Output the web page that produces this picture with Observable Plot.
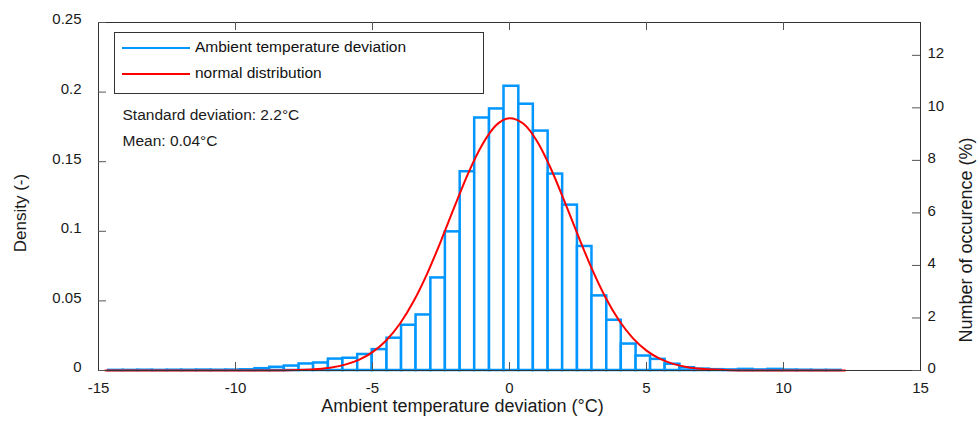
<!DOCTYPE html>
<html>
<head>
<meta charset="utf-8">
<script src="https://cdn.jsdelivr.net/npm/d3@7"></script>
<script src="https://cdn.jsdelivr.net/npm/@observablehq/plot@0.6"></script>
<style>
  html, body { margin: 0; padding: 0; background: #fff; }
  #wrap { position: relative; width: 979px; height: 430px; overflow: hidden; font-family: "Liberation Sans", Arial, sans-serif; }
  #legend { position: absolute; left: 114px; top: 32px; width: 370px; height: 62px; border: 1px solid #333; background: #fff; box-sizing: border-box; }
  .sw { position: absolute; left: 7px; width: 68px; height: 0; border-top: 2px solid; }
  .lt { position: absolute; left: 80px; font-size: 15.5px; color: #111; line-height: 18px; }
  .vlab { position: absolute; white-space: nowrap; color: #1a1a1a; line-height: 1; transform: translate(-50%, -50%) rotate(-90deg); }
</style>
</head>
<body>
<div id="wrap">
  <div id="chart"></div>
  <div id="legend">
    <div class="sw" style="top:14px;border-color:#0096ff"></div>
    <div class="lt" style="top:5px">Ambient temperature deviation</div>
    <div class="sw" style="top:40px;border-color:#ff0000"></div>
    <div class="lt" style="top:31px">normal distribution</div>
  </div>
  <div id="ylab" class="vlab" style="left:20px;top:213px;font-size:17px"></div>
  <div id="y2lab" class="vlab" style="left:966px;top:240px;font-size:18px"></div>
</div>
<script>
// Histogram bin edges (°C) and densities
const binEdges = [-14.63, -14.10, -13.56, -13.03, -12.49, -11.96, -11.42, -10.89, -10.35, -9.82,
  -9.29, -8.75, -8.22, -7.68, -7.15, -6.61, -6.08, -5.54, -5.01, -4.47,
  -3.94, -3.41, -2.87, -2.34, -1.80, -1.27, -0.73, -0.20, 0.34, 0.87,
  1.41, 1.94, 2.48, 3.01, 3.55, 4.08, 4.62, 5.15, 5.68, 6.22,
  6.75, 7.29, 7.82, 8.36, 8.89, 9.43, 9.96, 10.50, 11.03, 11.57, 12.10];
const densities = [0.0001, 0.0001, 0.0002, 0.0001, 0.0002, 0.0002, 0.0003, 0.0002, 0.0003, 0.0005,
  0.0013, 0.0023, 0.0032, 0.0047, 0.0054, 0.0082, 0.0088, 0.0115, 0.0150, 0.0232,
  0.0325, 0.0399, 0.0665, 0.0996, 0.1428, 0.1814, 0.1879, 0.2042, 0.1913, 0.1720,
  0.1411, 0.1188, 0.0891, 0.0536, 0.0361, 0.0190, 0.0104, 0.0080, 0.0045, 0.0020,
  0.0010, 0.0006, 0.0004, 0.0008, 0.0004, 0.0008, 0.0003, 0.0002, 0.0001, 0.0001];

// Normal distribution curve
const curveX = [-14.75, -12, -10, -9, -8, -7, -6.5, -6, -5.5, -5, -4.5, -4, -3.5, -3, -2.5, -2, -1.5, -1, -0.5, 0,
  0.5, 1, 1.5, 2, 2.5, 3, 3.5, 4, 4.5, 5, 5.5, 6, 6.5, 7, 8, 9, 10, 12.25];
const curveY = [0, 0, 0.00001, 0.00004, 0.00023, 0.00108, 0.00218, 0.0042, 0.0076, 0.0132, 0.0216, 0.0336, 0.0497, 0.0698, 0.0932, 0.118, 0.142, 0.162, 0.176, 0.1813,
  0.1774, 0.1649, 0.1455, 0.1219, 0.0971, 0.0733, 0.0526, 0.0359, 0.0233, 0.0143, 0.0083, 0.0046, 0.0024, 0.0012, 0.00026, 0.00004, 0, 0];

// Axis ticks
const xTicks = [-15, -10, -5, 0, 5, 10, 15];
const xInnerTicks = [-10, -5, 0, 5, 10];
const leftTicks = [0, 0.05, 0.1, 0.15, 0.2, 0.25];
const rightTicks = [0, 2, 4, 6, 8, 10, 12];
const rightMax = 13.25; // percent at top of right axis
const densityMax = 0.25;

const annotations = ["Standard deviation: 2.2°C", "Mean: 0.04°C"];
const xLabel = "Ambient temperature deviation (°C)";
const yLabel = "Density (-)";
const y2Label = "Number of occurence (%)";

const bars = densities.map((d, i) => ({x1: binEdges[i], x2: binEdges[i + 1], y: d}));
const curve = curveX.map((x, i) => ({x, y: curveY[i]}));
const toDensity = densityMax / rightMax;

const W = 979, H = 430, mL = 98, mR = 59, mT = 22, mB = 60;
const fw = W - mL - mR, fh = H - mT - mB;
const axisColor = "#333";
const tickColor = "#555";
const ink = "#1a1a1a";
const font = "Liberation Sans, Arial, sans-serif";

const chart = Plot.plot({
  width: W, height: H,
  marginLeft: mL, marginRight: mR, marginTop: mT, marginBottom: mB,
  style: {fontFamily: font, background: "transparent", color: ink},
  x: {domain: [-15, 15]},
  y: {domain: [0, densityMax]},
  marks: [
    Plot.rectY(bars, {x1: "x1", x2: "x2", y: "y", fill: "white", stroke: "#0096ff", strokeWidth: 2.5}),
    Plot.line(curve, {x: "x", y: "y", stroke: "#ff0000", strokeWidth: 2, curve: "monotone-x"}),
    Plot.frame({stroke: axisColor, strokeWidth: 1}),
    Plot.tickY(leftTicks, {y: d => d, stroke: tickColor, insetRight: fw - 8}),
    Plot.tickY(rightTicks.map(p => p * toDensity), {y: d => d, stroke: tickColor, insetLeft: fw - 8}),
    Plot.tickX(xInnerTicks, {x: d => d, stroke: tickColor, insetTop: fh - 8}),
    Plot.tickX(xInnerTicks, {x: d => d, stroke: tickColor, insetBottom: fh - 8}),
    Plot.axisX(xTicks, {tickSize: 0, tickPadding: 12, fontSize: 15, label: null, tickFormat: d => String(d)}),
    Plot.axisY(leftTicks, {tickSize: 0, tickPadding: 17, fontSize: 15, dy: -3, label: null, tickFormat: d => String(d)}),
    Plot.axisY(rightTicks.map(p => p * toDensity), {anchor: "right", tickSize: 0, tickPadding: 7, fontSize: 15, dy: -2, label: null,
      tickFormat: d => String(Math.round(d / toDensity))}),
    Plot.text([xLabel], {text: d => d, frameAnchor: "bottom", dx: -47, dy: 41, fontSize: 18, fill: ink}),
    Plot.text([annotations[0]], {text: d => d, frameAnchor: "top-left", textAnchor: "start", dx: 24, dy: 86, fontSize: 15.5, fill: ink}),
    Plot.text([annotations[1]], {text: d => d, frameAnchor: "top-left", textAnchor: "start", dx: 24, dy: 112, fontSize: 15.5, fill: ink})
  ]
});
document.getElementById("chart").appendChild(chart);
document.getElementById("ylab").textContent = yLabel;
document.getElementById("y2lab").textContent = y2Label;
</script>
</body>
</html>
